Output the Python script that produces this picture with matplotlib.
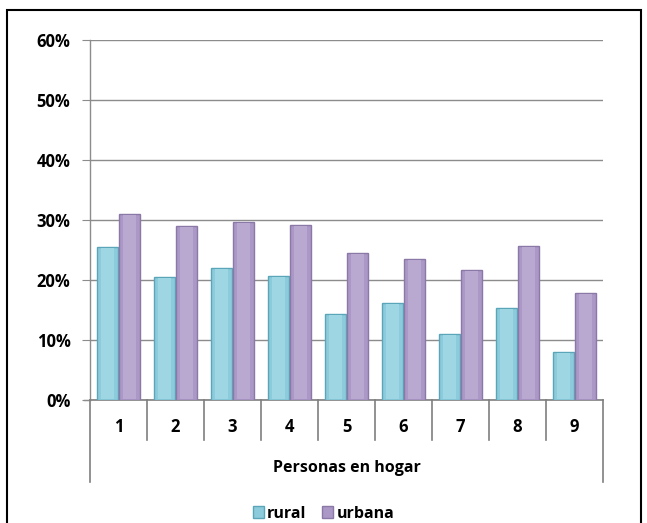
import matplotlib.pyplot as plt
import numpy as np
from matplotlib.patches import Rectangle
from matplotlib.ticker import PercentFormatter

# datos
categorias = ['1', '2', '3', '4', '5', '6', '7', '8', '9']
rural = [25.5, 20.5, 22.0, 20.7, 14.3, 16.2, 11.0, 15.3, 8.0]
urbana = [31.0, 29.0, 29.7, 29.2, 24.5, 23.5, 21.7, 25.7, 17.8]

plt.rcParams['font.family'] = ['Open Sans', 'DejaVu Sans']
plt.rcParams['font.weight'] = 'bold'
fs = 12

fig = plt.figure(figsize=(6.47, 5.23), dpi=100)
ax = fig.add_axes([0.139, 0.2352, 0.793, 0.6883])

x = np.arange(len(categorias))
w = 0.37

def barras(pos, vals, cara, borde, luz, label):
    v = np.array(vals) / 100
    b = ax.bar(pos, v, w, color=cara, edgecolor=borde, linewidth=1.0,
               label=label, zorder=3)
    # franja central mas clara (efecto bisel)
    ax.bar(pos, v - 0.004, w * 0.6, bottom=0.002, color=luz,
           linewidth=0, zorder=4)
    return b

barras(x - 0.19, rural, '#8ccbdc', '#5aa6b8', '#9fd6e4', 'rural')
barras(x + 0.19, urbana, '#ac98c6', '#8a78a6', '#b9a8d0', 'urbana')

ax.set_xlim(-0.5, len(categorias) - 0.5)
ax.set_ylim(0, 0.6)
ax.set_yticks(np.arange(0, 0.61, 0.1))
ax.yaxis.set_major_formatter(PercentFormatter(1.0, decimals=0))
ax.grid(axis='y', color='#8c8c8c', linewidth=1.0, zorder=0)
ax.set_axisbelow(True)
ax.tick_params(axis='y', length=6, color='#8c8c8c', labelsize=fs, pad=8)
ax.set_xticks([])
for s in ['top', 'right']:
    ax.spines[s].set_visible(False)
ax.spines['left'].set_color('#8c8c8c')
ax.spines['bottom'].set_color('#7f7f7f')
ax.spines['left'].set_linewidth(1.0)
ax.spines['bottom'].set_linewidth(1.2)

# eje de categorias con separadores
n = len(categorias)
for k in range(n + 1):
    fondo = -0.228 if k in (0, n) else -0.111
    ax.plot([k / n, k / n], [0, fondo], transform=ax.transAxes,
            color='#7f7f7f', linewidth=1.2, clip_on=False)
ax.plot([-0.012, 0], [0, 0], transform=ax.transAxes, color='#8c8c8c',
        linewidth=1.0, clip_on=False)
for i, c in enumerate(categorias):
    ax.text((i + 0.5) / n, -0.075, c, transform=ax.transAxes,
            ha='center', va='center', fontsize=fs, fontweight='bold')
ax.text(0.5, -0.19, 'Personas en hogar', transform=ax.transAxes,
        ha='center', va='center', fontsize=fs - 0.5, fontweight='bold')

fig.legend(loc='center', bbox_to_anchor=(0.5, 0.018), ncol=2, frameon=False,
           fontsize=fs - 0.5, handlelength=0.7, handleheight=0.7,
           handletextpad=0.2, columnspacing=1.0)

# marco exterior
fig.patches.append(Rectangle((0.0108, -0.02), 0.98, 1.001, fill=False,
                             edgecolor='black', linewidth=1.5,
                             transform=fig.transFigure, figure=fig))

fig.savefig('out.png', dpi=100)
